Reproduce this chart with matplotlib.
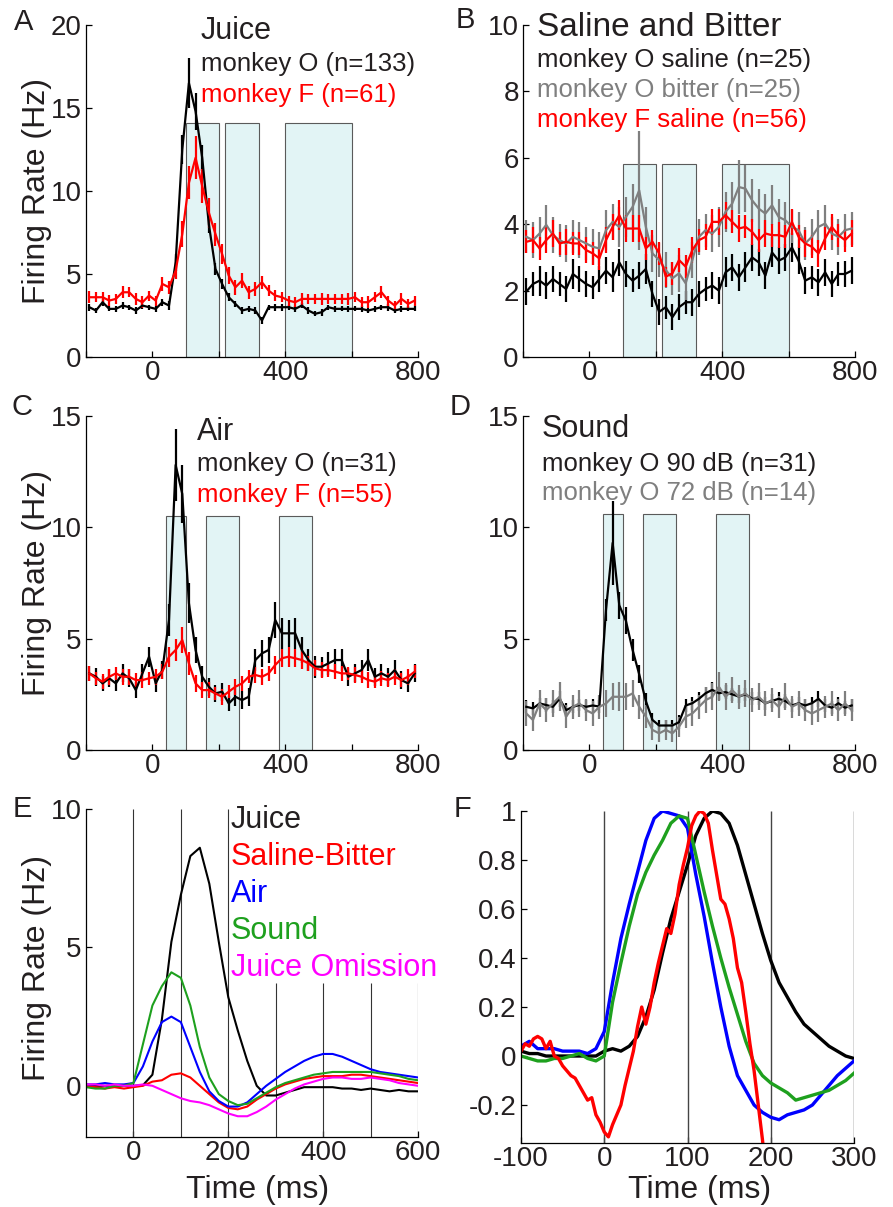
import numpy as np
import matplotlib
matplotlib.use('Agg')
from matplotlib import pyplot
from matplotlib.patches import Rectangle

pyplot.rcParams['font.family'] = ['Liberation Sans', 'DejaVu Sans']
pyplot.rcParams['axes.unicode_minus'] = False

W, H = 893, 1207
txt = '#231f20'
red = '#ff0000'
gray = '#7f7f7f'
boxface = '#e2f4f5'
boxedge = '#5a5a5a'

# bin centres of the PSTH panels (ms)
t_bin = np.arange(-190, 800, 20)

# A: juice
juice_O = [3.0, 2.8, 3.3, 2.9, 2.9, 3.1, 3.0, 2.8, 3.1, 3.0,
           2.9, 3.3, 3.1, 5.7, 12.5, 16.5, 14.8, 12.0, 8.0, 5.3,
           4.4, 3.6, 3.2, 2.8, 2.9, 2.8, 2.2, 3.0, 3.0, 3.0,
           3.0, 2.9, 3.1, 2.8, 2.6, 2.7, 3.0, 2.9, 2.9, 2.9,
           2.9, 2.9, 2.8, 2.9, 3.0, 3.0, 2.8, 2.9, 2.9, 2.9]
juice_O_sem = [0.2, 0.15, 0.2, 0.15, 0.2, 0.2, 0.15, 0.2, 0.2, 0.15,
               0.2, 0.2, 0.25, 0.5, 0.9, 1.5, 1.1, 0.8, 0.5, 0.35,
               0.3, 0.25, 0.2, 0.2, 0.2, 0.2, 0.2, 0.15, 0.2, 0.2,
               0.15, 0.2, 0.15, 0.2, 0.15, 0.2, 0.15, 0.2, 0.15, 0.2,
               0.15, 0.2, 0.15, 0.2, 0.15, 0.2, 0.15, 0.2, 0.15, 0.15]
juice_F = [3.6, 3.6, 3.6, 3.4, 3.5, 3.9, 3.9, 3.5, 3.3, 3.7,
           3.4, 4.4, 4.2, 5.2, 7.4, 10.5, 12.0, 10.3, 8.7, 7.4,
           6.2, 4.9, 4.2, 4.6, 3.9, 4.1, 4.5, 4.0, 3.7, 3.6,
           3.4, 3.3, 3.5, 3.5, 3.5, 3.5, 3.5, 3.5, 3.5, 3.5,
           3.6, 3.3, 3.3, 3.6, 3.9, 3.4, 3.1, 3.5, 3.2, 3.4]
juice_F_sem = [0.35, 0.3, 0.3, 0.35, 0.3, 0.35, 0.3, 0.35, 0.35, 0.3,
               0.3, 0.4, 0.4, 0.5, 0.8, 1.0, 1.3, 1.0, 0.9, 0.7,
               0.6, 0.5, 0.45, 0.45, 0.4, 0.4, 0.4, 0.35, 0.35, 0.3,
               0.3, 0.3, 0.35, 0.3, 0.3, 0.35, 0.3, 0.3, 0.3, 0.35,
               0.3, 0.3, 0.35, 0.3, 0.35, 0.3, 0.3, 0.35, 0.3, 0.3]

# B: saline and bitter
saline_O = [1.97, 2.2, 2.3, 2.15, 2.35, 2.2, 2.05, 2.5, 2.35, 2.2,
            2.1, 2.35, 2.6, 2.4, 2.85, 2.5, 2.3, 2.45, 2.65, 1.9,
            1.36, 1.5, 1.2, 1.5, 1.65, 1.65, 1.9, 2.05, 2.15, 2.0,
            2.55, 2.7, 2.4, 2.7, 3.0, 2.85, 2.45, 3.15, 2.9, 3.0,
            3.3, 2.9, 2.3, 2.4, 2.25, 2.55, 2.2, 2.5, 2.5, 2.6]
saline_O_sem = [0.4, 0.35, 0.45, 0.4, 0.4, 0.35, 0.4, 0.45, 0.4, 0.4,
                0.35, 0.4, 0.4, 0.45, 0.4, 0.4, 0.35, 0.4, 0.45, 0.4,
                0.4, 0.35, 0.4, 0.4, 0.35, 0.4, 0.4, 0.35, 0.4, 0.4,
                0.45, 0.4, 0.4, 0.45, 0.4, 0.4, 0.4, 0.45, 0.4, 0.4,
                0.45, 0.4, 0.4, 0.35, 0.4, 0.4, 0.4, 0.35, 0.4, 0.4]
bitter_O = [3.62, 3.52, 3.72, 3.98, 3.67, 3.52, 3.42, 3.62, 3.52, 3.42,
            3.32, 3.27, 3.82, 4.07, 3.92, 4.22, 4.52, 5.02, 3.92, 3.12,
            2.92, 2.62, 2.37, 2.52, 2.22, 2.92, 3.62, 3.82, 3.72, 3.92,
            4.37, 4.62, 5.12, 5.07, 4.72, 4.47, 4.32, 4.57, 4.22, 4.12,
            3.92, 3.82, 3.42, 3.62, 3.92, 4.02, 3.72, 3.62, 3.82, 3.87]
bitter_O_sem = [0.5, 0.55, 0.5, 0.6, 0.55, 0.5, 0.55, 0.5, 0.55, 0.5,
                0.55, 0.5, 0.6, 0.55, 0.6, 0.6, 0.7, 1.8, 0.6, 0.55,
                0.5, 0.55, 0.5, 0.55, 0.5, 0.55, 0.55, 0.5, 0.55, 0.6,
                0.6, 0.65, 0.8, 0.7, 0.65, 0.6, 0.6, 0.6, 0.55, 0.55,
                0.5, 0.55, 0.5, 0.55, 0.5, 0.55, 0.5, 0.55, 0.5, 0.5]
saline_F = [3.47, 3.52, 3.27, 3.52, 3.72, 3.42, 3.47, 3.42, 3.42, 3.22,
            3.12, 2.97, 3.52, 3.92, 4.27, 3.87, 3.87, 3.87, 3.27, 3.47,
            3.12, 2.42, 2.52, 2.92, 2.72, 3.22, 3.52, 3.62, 4.07, 4.07,
            4.27, 4.07, 3.87, 3.92, 3.77, 3.52, 3.72, 3.67, 3.67, 3.62,
            4.07, 3.62, 3.42, 3.32, 3.12, 3.57, 3.92, 3.67, 3.52, 3.72]
saline_F_sem = [0.35, 0.4, 0.35, 0.4, 0.4, 0.35, 0.4, 0.35, 0.35, 0.4,
                0.35, 0.35, 0.4, 0.4, 0.45, 0.4, 0.4, 0.4, 0.35, 0.35,
                0.35, 0.3, 0.35, 0.35, 0.35, 0.4, 0.35, 0.4, 0.4, 0.4,
                0.4, 0.35, 0.4, 0.35, 0.4, 0.35, 0.4, 0.35, 0.4, 0.35,
                0.4, 0.35, 0.4, 0.35, 0.4, 0.35, 0.4, 0.35, 0.35, 0.4]

# C: air
air_O = [3.44, 3.29, 2.99, 3.22, 2.99, 3.44, 3.22, 2.69, 3.44, 4.19,
         2.99, 3.59, 5.84, 12.8, 11.5, 6.59, 4.49, 3.29, 2.84, 2.54,
         2.62, 2.09, 2.39, 2.24, 2.39, 4.04, 4.34, 4.49, 5.84, 5.24,
         5.24, 5.24, 4.49, 4.04, 3.74, 3.74, 3.89, 4.04, 4.04, 3.29,
         3.44, 3.59, 4.04, 3.29, 3.44, 3.29, 3.59, 3.14, 2.99, 3.44]
air_O_sem = [0.35, 0.4, 0.35, 0.4, 0.35, 0.4, 0.4, 0.35, 0.4, 0.45,
             0.4, 0.4, 0.7, 1.6, 1.3, 0.9, 0.6, 0.5, 0.4, 0.4,
             0.4, 0.35, 0.4, 0.4, 0.4, 0.5, 0.6, 0.6, 0.8, 0.7,
             0.6, 0.7, 0.6, 0.5, 0.5, 0.45, 0.5, 0.5, 0.5, 0.4,
             0.4, 0.45, 0.5, 0.4, 0.4, 0.4, 0.45, 0.4, 0.4, 0.4]
air_F = [3.44, 3.22, 3.07, 3.29, 3.44, 3.29, 3.29, 3.14, 3.14, 3.22,
         3.29, 3.52, 4.19, 4.49, 4.94, 3.89, 2.99, 2.69, 2.69, 2.54,
         2.39, 2.62, 2.84, 2.99, 3.29, 3.37, 3.29, 3.44, 3.82, 4.12,
         4.19, 4.12, 4.04, 3.89, 3.67, 3.59, 3.59, 3.52, 3.44, 3.44,
         3.37, 3.29, 3.14, 3.07, 3.22, 3.14, 3.29, 3.14, 3.29, 3.52]
air_F_sem = [0.35, 0.3, 0.35, 0.35, 0.3, 0.35, 0.35, 0.3, 0.35, 0.3,
             0.35, 0.35, 0.45, 0.5, 0.6, 0.5, 0.4, 0.35, 0.35, 0.3,
             0.35, 0.3, 0.35, 0.35, 0.3, 0.35, 0.35, 0.35, 0.4, 0.4,
             0.45, 0.4, 0.4, 0.35, 0.35, 0.35, 0.3, 0.35, 0.35, 0.3,
             0.35, 0.3, 0.35, 0.3, 0.35, 0.3, 0.35, 0.3, 0.35, 0.3]

# D: sound
sound90_O = [1.94, 1.87, 2.09, 2.02, 1.94, 2.3, 1.79, 1.94, 2.02, 1.94,
             2.0, 1.95, 6.3, 9.3, 6.5, 5.8, 4.5, 3.4, 2.2, 1.35,
             1.1, 1.1, 1.1, 1.25, 2.0, 2.1, 2.3, 2.55, 2.7, 2.55,
             2.6, 2.5, 2.4, 2.5, 2.3, 2.3, 2.1, 2.2, 2.3, 2.2,
             2.0, 2.1, 2.0, 2.1, 2.3, 2.0, 1.9, 2.1, 1.9, 2.0]
sound90_O_sem = [0.3, 0.3, 0.25, 0.3, 0.3, 0.35, 0.3, 0.3, 0.25, 0.3,
                 0.3, 0.3, 0.5, 1.9, 0.6, 0.6, 0.5, 0.4, 0.35, 0.3,
                 0.25, 0.25, 0.25, 0.3, 0.3, 0.3, 0.3, 0.3, 0.35, 0.3,
                 0.3, 0.3, 0.3, 0.3, 0.3, 0.3, 0.3, 0.3, 0.3, 0.3,
                 0.3, 0.3, 0.3, 0.3, 0.35, 0.3, 0.3, 0.3, 0.3, 0.3]
sound72_O = [1.64, 1.35, 2.09, 1.79, 2.09, 2.39, 1.5, 1.94, 2.09, 1.79,
             1.64, 1.94, 2.09, 2.39, 2.39, 2.39, 2.54, 1.94, 1.5, 0.9,
             0.75, 0.9, 0.75, 1.05, 1.5, 1.64, 1.94, 2.24, 2.39, 2.84,
             2.39, 2.69, 2.39, 2.54, 2.24, 2.39, 2.09, 2.24, 1.94, 2.39,
             1.94, 2.09, 1.79, 1.64, 1.79, 1.94, 2.09, 1.79, 2.09, 1.79]
sound72_O_sem = [0.55, 0.5, 0.6, 0.55, 0.6, 0.65, 0.5, 0.55, 0.6, 0.5,
                 0.55, 0.55, 0.6, 0.6, 0.65, 0.6, 0.6, 0.55, 0.5, 0.45,
                 0.4, 0.45, 0.4, 0.45, 0.5, 0.55, 0.55, 0.6, 0.6, 0.65,
                 0.6, 0.6, 0.55, 0.6, 0.55, 0.6, 0.55, 0.55, 0.5, 0.6,
                 0.5, 0.55, 0.5, 0.5, 0.55, 0.5, 0.55, 0.5, 0.55, 0.5]

# analysis windows (ms)
win_lo_AB = [100, 220, 400]
win_hi_AB = [200, 320, 600]
win_lo_CD = [40, 160, 380]
win_hi_CD = [100, 260, 480]

# E: population averages (Hz), 20 ms steps
t_avg = np.arange(-100, 601, 20)
avg_juice = [0.0, 0.0, 0.0, 0.0, 0.0, 0.0, 0.02, 0.4, 2.4, 5.2,
             6.9, 8.3, 8.6, 7.3, 5.2, 3.2, 2.0, 0.9, 0.0, -0.35,
             -0.35, -0.25, -0.15, -0.05, -0.05, -0.05, -0.05, -0.1, -0.1, -0.15,
             -0.1, -0.15, -0.2, -0.15, -0.2, -0.2]
avg_saline = [0.0, -0.05, -0.1, -0.05, -0.1, -0.05, 0.0, 0.15, 0.2, 0.4,
              0.45, 0.3, 0.0, -0.3, -0.6, -0.8, -0.85, -0.75, -0.5, -0.3,
              -0.1, 0.05, 0.15, 0.25, 0.3, 0.35, 0.35, 0.35, 0.4, 0.4,
              0.35, 0.3, 0.25, 0.2, 0.15, 0.1]
avg_air = [0.05, 0.05, 0.1, 0.05, 0.05, 0.1, 0.7, 1.6, 2.3, 2.5,
           2.3, 1.4, 0.5, -0.2, -0.55, -0.75, -0.75, -0.6, -0.3, 0.0,
           0.25, 0.5, 0.7, 0.9, 1.05, 1.15, 1.15, 1.05, 0.9, 0.75,
           0.6, 0.5, 0.45, 0.4, 0.35, 0.3]
avg_sound = [-0.05, -0.1, -0.1, 0.0, 0.0, 0.1, 1.5, 2.9, 3.6, 4.1,
             3.9, 2.9, 1.4, 0.3, -0.3, -0.55, -0.7, -0.65, -0.45, -0.25,
             -0.05, 0.1, 0.2, 0.3, 0.4, 0.45, 0.5, 0.5, 0.5, 0.5,
             0.5, 0.45, 0.4, 0.35, 0.25, 0.2]
avg_omission = [0.05, 0.05, 0.0, 0.05, 0.0, 0.0, 0.05, 0.0, -0.15, -0.3,
                -0.45, -0.55, -0.6, -0.7, -0.85, -1.0, -1.1, -1.1, -0.95, -0.75,
                -0.5, -0.3, -0.1, 0.05, 0.15, 0.25, 0.3, 0.3, 0.25, 0.25,
                0.3, 0.25, 0.2, 0.1, 0.05, 0.0]

# F: normalised averages, 10 ms steps (saline-bitter at 5 ms)
t_norm = np.arange(-100, 301, 10)
norm_juice = [0.02, 0.01, 0.01, 0.0, 0.0, 0.0, 0.0, 0.0, 0.0, 0.0,
              0.02, 0.03, 0.02, 0.04, 0.08, 0.16, 0.27, 0.42, 0.56, 0.67,
              0.78, 0.9, 0.97, 1.0, 0.99, 0.95, 0.86, 0.74, 0.62, 0.5,
              0.39, 0.3, 0.24, 0.18, 0.13, 0.1, 0.07, 0.04, 0.02, 0.0,
              -0.01]
norm_air = [0.04, 0.06, 0.03, 0.03, 0.03, 0.02, 0.02, 0.02, 0.01, 0.03,
            0.1, 0.3, 0.48, 0.62, 0.75, 0.88, 0.97, 1.0, 0.99, 0.98,
            0.93, 0.74, 0.57, 0.38, 0.2, 0.04, -0.08, -0.14, -0.2, -0.23,
            -0.25, -0.26, -0.24, -0.23, -0.22, -0.2, -0.16, -0.12, -0.08, -0.05,
            -0.02]
norm_sound = [0.0, -0.01, -0.02, -0.02, -0.01, -0.01, 0.0, 0.01, -0.01, -0.02,
              0.0, 0.22, 0.38, 0.53, 0.66, 0.75, 0.82, 0.88, 0.95, 0.98,
              0.97, 0.82, 0.67, 0.53, 0.4, 0.28, 0.17, 0.06, -0.03, -0.08,
              -0.11, -0.13, -0.15, -0.18, -0.17, -0.16, -0.15, -0.14, -0.12, -0.1,
              -0.07]
t_norm_sb = np.arange(-100, 201, 5)
norm_saline = [0.02, 0.05, 0.04, 0.07, 0.08, 0.07, 0.03, 0.06, 0.0, -0.01,
               -0.04, -0.06, -0.08, -0.09, -0.12, -0.15, -0.18, -0.17, -0.24, -0.27,
               -0.31, -0.33, -0.28, -0.24, -0.2, -0.12, -0.05, 0.02, 0.12, 0.2,
               0.13, 0.2, 0.3, 0.38, 0.45, 0.52, 0.5, 0.58, 0.7, 0.78,
               0.85, 0.94, 0.98, 1.0, 0.99, 0.95, 0.84, 0.74, 0.64, 0.62,
               0.56, 0.48, 0.36, 0.3, 0.18, 0.05, -0.06, -0.2, -0.34, -0.5,
               -0.65]


def panel(l, t, r, b):
    return fig.add_axes([l / W, 1 - b / H, (r - l) / W, (b - t) / H])


def ftext(x, y, s, **kw):
    kw.setdefault('color', txt)
    fig.text(x / W, 1 - y / H, s, **kw)


def tidy(ax):
    for s in ['top', 'right']:
        ax.spines[s].set_visible(False)
    for s in ['left', 'bottom']:
        ax.spines[s].set_linewidth(0.9)
    ax.tick_params(direction='in', length=4, width=0.9, labelsize=20,
                   labelcolor=txt)
    ax.tick_params(axis='x', pad=2)
    ax.tick_params(axis='y', pad=3)


def psth_axes(ax, ymax, yticks, lo, hi, top):
    tidy(ax)
    for a, b in zip(lo, hi):
        ax.add_patch(Rectangle((a, 0), b - a, top, facecolor=boxface,
                               edgecolor=boxedge, lw=0.8, zorder=1))
    ax.set_xlim(-200, 800)
    ax.set_ylim(0, ymax)
    ax.set_xticks([-200, 0, 200, 400, 600, 800], ['', '0', '', '400', '', '800'])
    ax.set_yticks(yticks)


def psth(ax, y, e, col):
    ax.errorbar(t_bin, y, yerr=e, color=col, lw=1.6, elinewidth=1.6,
                capsize=0, zorder=3)


fig = pyplot.figure(figsize=(W / 100, H / 100), dpi=100)

# A
ax = panel(86, 25, 418, 357)
psth_axes(ax, 20, [0, 5, 10, 15, 20], win_lo_AB, win_hi_AB, 14.1)
psth(ax, juice_O, juice_O_sem, 'k')
psth(ax, juice_F, juice_F_sem, red)
ftext(201, 39, 'Juice', fontsize=22)
ftext(201, 71, 'monkey O (n=133)', fontsize=18.5)
ftext(201, 102, 'monkey F (n=61)', fontsize=18.5, color=red)

# B
ax = panel(523, 25, 855, 357)
psth_axes(ax, 10, [0, 2, 4, 6, 8, 10], win_lo_AB, win_hi_AB, 5.8)
psth(ax, saline_O, saline_O_sem, 'k')
psth(ax, bitter_O, bitter_O_sem, gray)
psth(ax, saline_F, saline_F_sem, red)
ftext(537, 36, 'Saline and Bitter', fontsize=24)
ftext(537, 67, 'monkey O saline (n=25)', fontsize=18.5)
ftext(537, 97, 'monkey O bitter (n=25)', fontsize=18.5, color=gray)
ftext(537, 127, 'monkey F saline (n=56)', fontsize=18.5, color=red)

# C
ax = panel(86, 416, 418, 750)
psth_axes(ax, 15, [0, 5, 10, 15], win_lo_CD, win_hi_CD, 10.5)
psth(ax, air_O, air_O_sem, 'k')
psth(ax, air_F, air_F_sem, red)
ftext(197, 440, 'Air', fontsize=22)
ftext(197, 471, 'monkey O (n=31)', fontsize=18.5)
ftext(197, 502, 'monkey F (n=55)', fontsize=18.5, color=red)

# D
ax = panel(523, 416, 855, 750)
psth_axes(ax, 15, [0, 5, 10, 15], win_lo_CD, win_hi_CD, 10.6)
psth(ax, sound90_O, sound90_O_sem, 'k')
psth(ax, sound72_O, sound72_O_sem, gray)
ftext(542, 437, 'Sound', fontsize=22)
ftext(542, 471, 'monkey O 90 dB (n=31)', fontsize=18.5)
ftext(542, 500, 'monkey O 72 dB (n=14)', fontsize=18.5, color=gray)

# E
ax = panel(86, 809, 418, 1137)
tidy(ax)
ax.set_xlim(-100, 600)
ax.set_ylim(-1.85, 10)
ax.vlines([0, 100, 200], -1.85, 10, color='#333333', lw=0.8)
ax.vlines([300, 400, 500, 600], -1.85, 3.7, color='#333333', lw=0.8)
ax.plot(t_avg, avg_juice, color='k', lw=1.5)
ax.plot(t_avg, avg_saline, color=red, lw=1.5)
ax.plot(t_avg, avg_air, color='#0000ff', lw=1.5)
ax.plot(t_avg, avg_sound, color='#1ea01e', lw=1.5)
ax.plot(t_avg, avg_omission, color='#ff00ff', lw=1.5)
ax.set_xticks([0, 200, 400, 600])
ax.set_yticks([0, 5, 10])
for i, (name, col) in enumerate([('Juice', txt), ('Saline-Bitter', red),
                                 ('Air', '#0000ff'), ('Sound', '#1ea01e'),
                                 ('Juice Omission', '#ff00ff')]):
    ftext(231, 828 + 37 * i, name, fontsize=22, color=col)

# F
ax = panel(521, 811, 854, 1143)
tidy(ax)
ax.set_xlim(-100, 300)
ax.set_ylim(-0.355, 1.0)
ax.vlines([0, 100, 200, 300], -0.355, 1.0, color='#444444', lw=1.0)
ax.plot(t_norm, norm_juice, color='k', lw=2.4)
ax.plot(t_norm, norm_air, color='#0000ff', lw=2.4)
ax.plot(t_norm, norm_sound, color='#1ea01e', lw=2.4)
ax.plot(t_norm_sb, norm_saline, color=red, lw=2.4)
ax.set_xticks([-100, 0, 100, 200, 300])
ax.set_yticks([-0.2, 0, 0.2, 0.4, 0.6, 0.8, 1],
              ['-0.2', '0', '0.2', '0.4', '0.6', '0.8', '1'])

# axis labels and panel letters
for yc in [191, 583, 968]:
    ftext(37, yc, 'Firing Rate (Hz)', fontsize=23, rotation=90,
          ha='center', va='center')
ftext(258, 1190, 'Time (ms)', fontsize=23, ha='center', va='center')
ftext(700, 1190, 'Time (ms)', fontsize=23, ha='center', va='center')
for letter, x, y in [('A', 24, 22), ('B', 465, 20), ('C', 22, 407),
                     ('D', 460, 407), ('E', 22, 809), ('F', 462, 809)]:
    ftext(x, y, letter, fontsize=21, ha='center', va='center')

pyplot.savefig('out.png', dpi=100)
